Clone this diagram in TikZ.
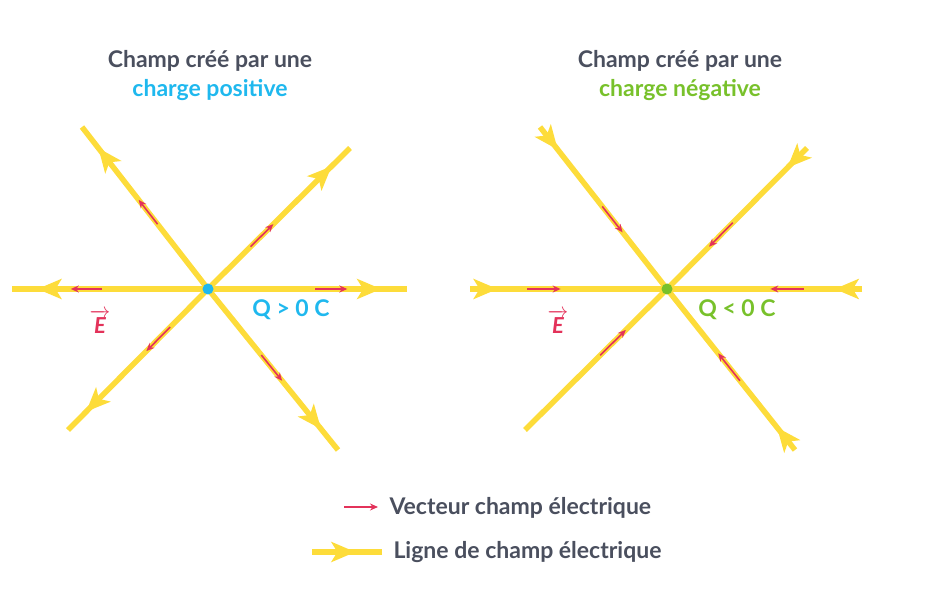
\documentclass[tikz,border=0pt]{standalone}
\usepackage{amsmath}
\usepackage{fontspec}
\setmainfont{Lato}
\usetikzlibrary{arrows.meta,calc,decorations.markings}
\definecolor{txtgray}{HTML}{4A4F5E}
\definecolor{poscyan}{HTML}{1FB8EE}
\definecolor{neggreen}{HTML}{78C12B}
\definecolor{lineyel}{HTML}{FDDC3A}
\definecolor{vecred}{HTML}{E3325A}
\tikzset{
  fieldline/.style={lineyel,line width=5.5pt},
  tipat/.style={postaction={decorate},decoration={markings,
      mark=at position #1 with {\arrow{Stealth[length=24pt,width=20pt,inset=6pt]}}}},
  fieldvec/.style={vecred,line width=1.6pt,-{Stealth[length=8pt,width=7pt]}},
  label/.style={font=\fontsize{23}{29}\selectfont\bfseries,text=txtgray,align=center},
  qlabel/.style={font=\fontsize{23}{26}\selectfont\bfseries},
  elabel/.style={font=\fontsize{22}{26}\selectfont\bfseries,text=vecred}
}
\begin{document}
\begin{tikzpicture}[x=1pt,y=-1pt]
  \useasboundingbox (0,0) rectangle (943,609);
  % positive charge
  \coordinate (P) at (208,289);
  \foreach \ex/\ey/\a/\b in {12/289/0.54/0.70,407/289/0.54/0.70,82/127/0.40/0.55,
      350/148/0.30/0.46,68/430/0.27/0.44,338/450/0.41/0.57}{
    \coordinate (end) at (\ex,\ey);
    \draw[fieldline,tipat=0.87] (P) -- (end);
    \draw[fieldvec] ($(P)!\a!(end)$) -- ($(P)!\b!(end)$);
  }
  \fill[poscyan] (P) circle (5.5pt);
  \node[label] (titlepos) at (210,76) {Champ créé par une\\\textcolor{poscyan}{charge positive}};
  \node[qlabel,text=poscyan] (qpos) at (291,310) {Q > 0 C};
  \node[elabel] (epos) at (100,322) {$\overrightarrow{\text{\bfseries\itshape E}}$};
  % negative charge
  \coordinate (N) at (667,289);
  \foreach \ex/\ey/\a/\b in {470/289/0.54/0.71,862/289/0.53/0.70,540/127/0.35/0.51,
      807/148/0.30/0.47,795/450/0.40/0.57}{
    \coordinate (end) at (\ex,\ey);
    \draw[fieldline,tipat=0.14] (end) -- (N);
    \draw[fieldvec] ($(N)!\b!(end)$) -- ($(N)!\a!(end)$);
  }
  \coordinate (dl) at (525,430);
  \draw[fieldline] (dl) -- (N);
  \draw[fieldvec] ($(N)!0.47!(dl)$) -- ($(N)!0.29!(dl)$);
  \fill[neggreen] (N) circle (5.5pt);
  \node[label] (titleneg) at (680,76) {Champ créé par une\\\textcolor{neggreen}{charge négative}};
  \node[qlabel,text=neggreen] (qneg) at (737,310) {Q < 0 C};
  \node[elabel] (eneg) at (558,322) {$\overrightarrow{\text{\bfseries\itshape E}}$};
  % legend
  \coordinate (va) at (344,507);
  \coordinate (vb) at (378,507);
  \draw[fieldvec] (va) -- (vb);
  \node[label,anchor=west] (vleg) at (386,508) {Vecteur champ électrique};
  \coordinate (la) at (312,552);
  \coordinate (lb) at (382,552);
  \draw[fieldline,tipat=0.62] (la) -- (lb);
  \node[label,anchor=west] (lleg) at (390,552) {Ligne de champ électrique};
\end{tikzpicture}
\end{document}
